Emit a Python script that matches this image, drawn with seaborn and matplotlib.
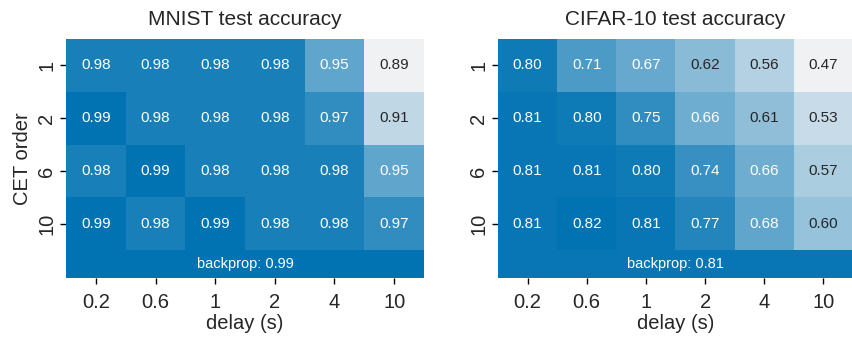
import numpy as np
import pandas as pd
import matplotlib
matplotlib.use("Agg")
import matplotlib.pyplot as plt
from matplotlib.patches import Rectangle
from matplotlib.colors import Normalize
import seaborn as sns

sns.set_theme(style="white")
plt.rcParams["font.family"] = ["Liberation Sans", "DejaVu Sans"]

delays = ["0.2", "0.6", "1", "2", "4", "10"]
cet_orders = ["1", "2", "6", "10"]

mnist_acc = [
    [0.98, 0.98, 0.98, 0.98, 0.95, 0.89],
    [0.99, 0.98, 0.98, 0.98, 0.97, 0.91],
    [0.98, 0.99, 0.98, 0.98, 0.98, 0.95],
    [0.99, 0.98, 0.99, 0.98, 0.98, 0.97],
]
mnist_backprop = 0.99

cifar_acc = [
    [0.80, 0.71, 0.67, 0.62, 0.56, 0.47],
    [0.81, 0.80, 0.75, 0.66, 0.61, 0.53],
    [0.81, 0.81, 0.80, 0.74, 0.66, 0.57],
    [0.81, 0.82, 0.81, 0.77, 0.68, 0.60],
]
cifar_backprop = 0.81

titles = ["MNIST test accuracy", "CIFAR-10 test accuracy"]

cmap = sns.color_palette("light:#0173b2", as_cmap=True)

fig = plt.figure(figsize=(8.53, 3.37), dpi=100)
W, H = 853, 337
panels = [(66, 424), (498, 853)]
top_px, bottom_px = 39, 278
backprop_h = 0.53

for i, (acc, bp, title) in enumerate(zip([mnist_acc, cifar_acc],
                                         [mnist_backprop, cifar_backprop],
                                         titles)):
    x0, x1 = panels[i]
    ax = fig.add_axes([x0 / W, 1 - bottom_px / H, (x1 - x0) / W,
                       (bottom_px - top_px) / H])
    df = pd.DataFrame(acc, index=cet_orders, columns=delays)
    vmin, vmax = float(np.min(acc)), float(np.max(acc))
    sns.heatmap(df, ax=ax, cmap=cmap, vmin=vmin, vmax=vmax, annot=True,
                fmt=".2f", cbar=False, annot_kws={"fontsize": 11})
    # backprop reference strip beneath the grid
    norm = Normalize(vmin, vmax)
    nrows, ncols = df.shape
    ax.add_patch(Rectangle((0, nrows), ncols, backprop_h,
                           facecolor=cmap(norm(bp)), edgecolor="none"))
    ax.text(ncols / 2, nrows + backprop_h / 2, f"backprop: {bp:.2f}",
            ha="center", va="center", color="white", fontsize=10.5)
    ax.set_ylim(nrows + backprop_h, 0)
    ax.set_xlim(0, ncols)

    ax.set_title(title, fontsize=15, pad=10)
    ax.set_xlabel("delay (s)", fontsize=14.5, labelpad=1)
    if i == 0:
        ax.set_ylabel("CET order", fontsize=14.5, labelpad=4)
    else:
        ax.set_ylabel("")
    ax.tick_params(axis="both", which="both", length=4, width=1,
                   color="black", labelsize=14.5, bottom=True, left=True, pad=3)
    ax.tick_params(axis="x", pad=7)
    plt.setp(ax.get_yticklabels(), rotation=90, va="center")
    plt.setp(ax.get_xticklabels(), rotation=0)

fig.savefig("out.png", dpi=100)
